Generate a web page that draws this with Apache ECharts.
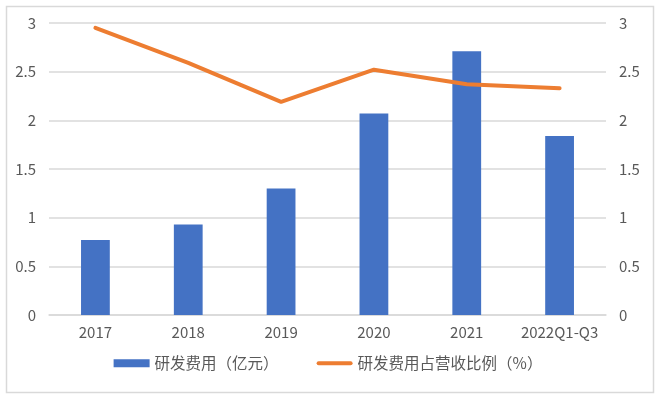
<!DOCTYPE html>
<html>
<head>
<meta charset="utf-8">
<script src="https://cdn.jsdelivr.net/npm/echarts@6/dist/echarts.min.js"></script>
<style>
html,body{margin:0;padding:0;background:#fff;}
#c{width:656px;height:396px;}
</style>
</head>
<body>
<div id="c"></div>
<script>
const categories = ['2017','2018','2019','2020','2021','2022Q1-Q3'];
const rdExpense = [0.77, 0.93, 1.30, 2.07, 2.71, 1.84];
const rdRatio = [2.95, 2.59, 2.19, 2.52, 2.37, 2.33];
const yTicks = [0, 0.5, 1, 1.5, 2, 2.5, 3];
const seriesNames = ['研发费用（亿元）', '研发费用占营收比例（%）'];

const FONT = '"Noto Sans CJK SC", "Noto Sans", sans-serif';
const chart = echarts.init(document.getElementById('c'), null, {renderer: 'canvas'});
const axisLabelStyle = {color: '#595959', fontSize: 15, fontFamily: FONT, margin: 13,
  formatter: v => String(v)};
chart.setOption({
  animation: false,
  backgroundColor: '#fff',
  graphic: [{
    type: 'rect', left: 4, top: 4, z: -1,
    shape: {width: 647, height: 386},
    style: {fill: 'none', stroke: '#D9D9D9', lineWidth: 1.5}
  }],
  grid: {left: 49, right: 50, top: 23, bottom: 81, containLabel: false},
  legend: {
    bottom: 20, left: 'center', itemGap: 38,
    itemWidth: 36, itemHeight: 8,
    symbolKeepAspect: true,
    textStyle: {color: '#595959', fontSize: 15.5, fontFamily: FONT},
    data: [
      {name: seriesNames[0], icon: 'rect'},
      {name: seriesNames[1],
       icon: 'path://M2,0 L34,0 A2,2 0 0 1 34,4 L2,4 A2,2 0 0 1 2,0 Z',
       itemStyle: {color: '#ED7D31'}}
    ]
  },
  xAxis: {
    type: 'category', data: categories,
    axisLine: {lineStyle: {color: '#D9D9D9', width: 1.5}},
    axisTick: {show: false},
    axisLabel: {color: '#595959', fontSize: 15, fontFamily: FONT, margin: 10, interval: 0}
  },
  yAxis: [
    {type: 'value', min: 0, max: 3, interval: 0.5,
     axisLine: {show: false}, axisTick: {show: false},
     splitLine: {lineStyle: {color: '#D9D9D9', width: 1.5}},
     axisLabel: axisLabelStyle},
    {type: 'value', min: 0, max: 3, interval: 0.5, position: 'right',
     axisLine: {show: false}, axisTick: {show: false},
     splitLine: {show: false},
     axisLabel: axisLabelStyle}
  ],
  series: [
    {name: seriesNames[0], type: 'bar', data: rdExpense, yAxisIndex: 0,
     barWidth: '31%', itemStyle: {color: '#4472C4'}},
    {name: seriesNames[1], type: 'line', data: rdRatio, yAxisIndex: 1,
     symbol: 'none', lineStyle: {color: '#ED7D31', width: 4, cap: 'round', join: 'round'},
     itemStyle: {color: '#ED7D31'}}
  ]
});
</script>
</body>
</html>
